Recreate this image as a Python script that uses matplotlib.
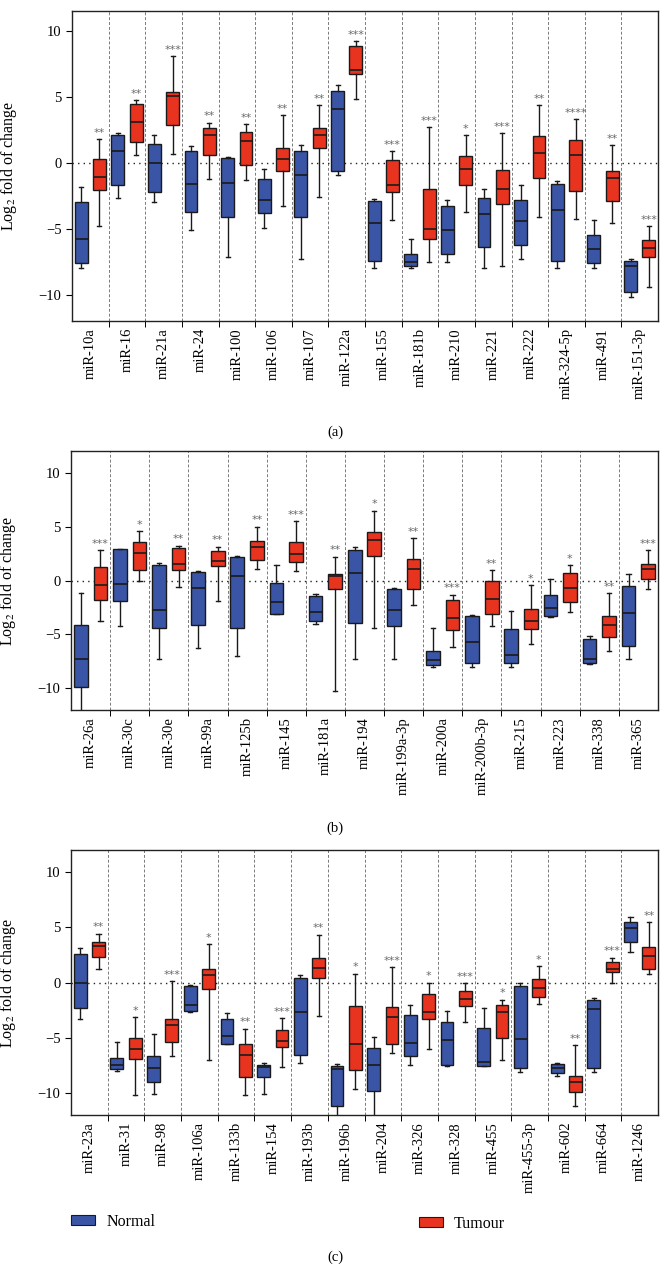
import matplotlib
matplotlib.use("Agg")
import matplotlib.pyplot as plt
from matplotlib.patches import Patch
import numpy as np

plt.rcParams['font.family'] = ['Liberation Serif', 'DejaVu Serif']
plt.rcParams['mathtext.fontset'] = 'stix'
plt.rcParams['axes.unicode_minus'] = True

# ---------------- data (lo, q1, median, q3, hi) ----------------
names_a = ["miR-10a", "miR-16", "miR-21a", "miR-24", "miR-100", "miR-106", "miR-107", "miR-122a",
           "miR-155", "miR-181b", "miR-210", "miR-221", "miR-222", "miR-324-5p", "miR-491", "miR-151-3p"]
normal_a = [(-8.0, -7.6, -5.8, -2.95, -1.87), (-2.67, -1.67, 0.86, 2.12, 2.25), (-2.98, -2.25, -0.05, 1.39, 2.1),
            (-5.08, -3.71, -1.59, 0.9, 1.24), (-7.15, -4.12, -1.52, 0.33, 0.45), (-4.97, -3.81, -2.86, -1.21, -0.45),
            (-7.27, -4.09, -0.91, 0.91, 1.34), (-0.91, -0.63, 4.09, 5.45, 5.9), (-7.98, -7.47, -4.55, -2.93, -2.78),
            (-7.98, -7.8, -7.52, -6.92, -5.81), (-7.5, -6.89, -5.08, -3.31, -2.85), (-7.98, -6.36, -3.89, -2.68, -1.99),
            (-7.3, -6.24, -4.39, -2.85, -1.69), (-7.98, -7.47, -3.59, -1.59, -1.41), (-7.98, -7.6, -6.57, -5.48, -4.34),
            (-10.17, -9.8, -7.83, -7.45, -7.3)]
tumour_a = [(-4.8, -2.1, -1.08, 0.28, 1.77), (0.55, 1.57, 3.05, 4.45, 4.75), (0.68, 2.85, 5.08, 5.38, 8.08),
            (-1.21, 0.58, 2.1, 2.65, 3.03), (-1.31, -0.15, 1.64, 2.32, 2.9), (-3.31, -0.63, 0.3, 1.11, 3.61),
            (-2.63, 1.14, 2.12, 2.63, 4.37), (4.8, 6.72, 7.05, 8.84, 9.22), (-4.32, -2.25, -1.72, 0.2, 0.86),
            (-7.55, -5.78, -5.03, -1.99, 2.7), (-3.71, -1.69, -0.48, 0.53, 2.07), (-7.8, -3.13, -1.97, -0.53, 2.22),
            (-4.09, -1.14, 0.76, 2.02, 4.34), (-4.27, -2.17, 0.55, 1.69, 3.28), (-4.55, -2.93, -1.16, -0.6, 1.34),
            (-9.39, -7.15, -6.46, -5.83, -4.82)]
stars_a = ["**", "**", "***", "**", "**", "**", "**", "***", "***", "***", "*", "***", "**", "****", "**", "***"]

names_b = ["miR-26a", "miR-30c", "miR-30e", "miR-99a", "miR-125b", "miR-145", "miR-181a", "miR-194",
           "miR-199a-3p", "miR-200a", "miR-200b-3p", "miR-215", "miR-223", "miR-338", "miR-365"]
normal_b = [(-12.5, -9.85, -7.31, -4.11, -1.18), (-4.23, -1.89, -0.34, 2.9, 2.96), (-7.31, -4.44, -2.69, 1.48, 1.63),
            (-6.24, -4.14, -0.74, 0.8, 0.86), (-7.01, -4.44, 0.43, 2.16, 2.31), (-3.15, -3.06, -1.98, -0.19, 1.45),
            (-4.05, -3.77, -2.9, -1.39, -1.24), (-7.31, -3.92, 0.65, 2.87, 3.08), (-7.31, -4.23, -2.69, -0.83, -0.65),
            (-8.02, -7.81, -7.38, -6.55, -4.39), (-8.02, -7.69, -5.71, -3.28, -3.18), (-8.02, -7.69, -6.92, -4.51, -2.81),
            (-3.34, -3.28, -2.54, -1.36, 0.15), (-7.78, -7.6, -7.31, -5.4, -5.16), (-7.31, -6.11, -3.03, -0.53, 0.56)]
tumour_b = [(-3.77, -1.79, -0.44, 1.26, 2.78), (-0.09, 0.93, 2.59, 3.61, 4.59), (-0.56, 0.93, 1.57, 3.02, 3.24),
            (-1.92, 1.35, 1.79, 2.69, 3.15), (1.02, 1.94, 3.08, 3.7, 5.0), (0.86, 1.69, 2.46, 3.61, 5.52),
            (-10.22, -0.81, 0.43, 0.61, 2.22), (-4.39, 2.31, 3.73, 4.53, 6.48), (-2.28, -0.77, 1.08, 1.97, 3.94),
            (-6.15, -4.6, -3.52, -1.82, -1.3), (-4.17, -3.15, -1.7, -0.03, 0.93), (-5.9, -4.54, -3.74, -2.66, -0.44),
            (-2.96, -1.98, -0.65, 0.65, 1.42), (-6.52, -5.22, -4.14, -3.28, -1.2), (-0.83, 0.12, 1.05, 1.57, 2.78)]
stars_b = ["***", "*", "**", "**", "**", "***", "**", "*", "**", "***", "**", "*", "*", "**", "***"]

names_c = ["miR-23a", "miR-31", "miR-98", "miR-106a", "miR-133b", "miR-154", "miR-193b", "miR-196b",
           "miR-204", "miR-326", "miR-328", "miR-455", "miR-455-3p", "miR-602", "miR-664", "miR-1246"]
normal_c = [(-3.32, -2.35, 0.0, 2.62, 3.16), (-8.01, -7.8, -7.5, -6.84, -5.39), (-10.09, -8.98, -7.77, -6.69, -4.67),
            (-2.71, -2.62, -2.08, -0.3, -0.21), (-5.6, -5.55, -4.82, -3.29, -2.8), (-10.09, -8.6, -7.68, -7.47, -7.32),
            (-7.32, -6.6, -2.65, 0.39, 0.66), (-12.5, -11.15, -7.86, -7.56, -7.35), (-12.5, -9.85, -7.5, -5.96, -4.97),
            (-7.5, -6.65, -5.45, -2.98, -2.02), (-7.56, -7.47, -5.21, -3.56, -2.56), (-7.6, -7.6, -7.2, -4.1, -2.35),
            (-8.1, -7.7, -5.12, -0.33, -0.03), (-8.5, -8.2, -7.76, -7.4, -7.3), (-8.1, -7.76, -2.38, -1.63, -1.36),
            (2.77, 3.7, 4.97, 5.51, 5.93)]
tumour_c = [(1.2, 2.35, 3.31, 3.64, 4.43), (-10.15, -6.9, -6.05, -5.0, -3.16), (-6.69, -5.42, -3.83, -3.29, 0.12),
            (-6.99, -0.63, 0.69, 1.26, 3.46), (-10.15, -8.58, -6.54, -5.6, -4.19), (-7.68, -5.82, -5.3, -4.31, -3.25),
            (-3.07, 0.39, 1.32, 2.2, 4.34), (-9.6, -7.9, -5.55, -2.17, 0.81), (-6.4, -5.57, -3.16, -2.23, 1.41),
            (-6.02, -3.32, -2.71, -1.08, -0.03), (-3.56, -2.17, -1.51, -0.81, -0.09), (-7.0, -5.06, -2.71, -2.05, -1.54),
            (-1.93, -1.33, -0.54, 0.33, 1.47), (-11.15, -9.9, -8.97, -8.5, -5.69), (0.0, 0.96, 1.2, 1.86, 2.26),
            (0.81, 1.2, 2.44, 3.22, 5.45)]
stars_c = ["**", "*", "***", "*", "**", "***", "**", "*", "***", "*", "***", "*", "*", "**", "***", "**"]

yticks = [-10, -5, 0, 5, 10]
series_labels = ["Normal", "Tumour"]

# ---------------- style ----------------
BLUE = "#3b55a6"
RED = "#e8341f"
EDGE = "#1a1a1a"
W, H = 669, 1274
fig = plt.figure(figsize=(W / 100, H / 100), dpi=100)


def to_stats(rows):
    return [dict(whislo=r[0], q1=r[1], med=r[2], q3=r[3], whishi=r[4], fliers=[]) for r in rows]


def panel(rect_px, names, normal, tumour, stars, ylim, tag, tag_y):
    l, t, r, b = rect_px
    ax = fig.add_axes([l / W, 1 - b / H, (r - l) / W, (b - t) / H])
    n = len(names)
    x = np.arange(n)
    common = dict(widths=0.35, patch_artist=True, showfliers=False, capwidths=0.11,
                  medianprops=dict(color=EDGE, lw=1.2),
                  whiskerprops=dict(color=EDGE, lw=1.0),
                  capprops=dict(color=EDGE, lw=1.0))
    ax.bxp(to_stats(normal), positions=x - 0.25, boxprops=dict(facecolor=BLUE, edgecolor=EDGE, lw=1.0), **common)
    ax.bxp(to_stats(tumour), positions=x + 0.25, boxprops=dict(facecolor=RED, edgecolor=EDGE, lw=1.0), **common)
    for i, s in enumerate(stars):
        ax.annotate(s, (x[i] + 0.25, tumour[i][4]), xytext=(0, 1.0), textcoords="offset points",
                    ha="center", va="bottom", fontsize=8, color="#6a6a6a", family="DejaVu Sans")
    for s in x[:-1] + 0.5:
        ax.axvline(s, color="#7a7a7a", lw=0.7, ls=(0, (3, 2)), zorder=0)
    ax.axhline(0, color="#222222", lw=1.0, ls=(0, (1, 3)), zorder=0)
    ax.set_xlim(-0.5, n - 0.5)
    ax.set_ylim(*ylim)
    ax.set_yticks(yticks)
    ax.set_xticks(x)
    ax.set_xticklabels(names, rotation=90, fontsize=10.5)
    ax.set_xticks(x[:-1] + 0.5, minor=True)
    ax.tick_params(axis="x", which="major", length=0, pad=5)
    ax.tick_params(axis="x", which="minor", length=4, width=0.7, direction="out")
    ax.tick_params(axis="y", labelsize=10.5, length=4, width=0.8, direction="out")
    for sp in ax.spines.values():
        sp.set_linewidth(1.0)
        sp.set_color("#222222")
    ax.set_ylabel("Log$_2$ fold of change", fontsize=11.5)
    ax.yaxis.set_label_coords(-0.09, 0.5)
    fig.text(335 / W, 1 - tag_y / H, tag, ha="center", va="center", fontsize=10.5)
    return ax


panel((72, 11, 658, 321), names_a, normal_a, tumour_a, stars_a, (-12, 11.5), "(a)", 432)
panel((71, 451, 658, 710), names_b, normal_b, tumour_b, stars_b, (-12, 12), "(b)", 828)
panel((71, 850, 658, 1115), names_c, normal_c, tumour_c, stars_c, (-12, 12), "(c)", 1257)

leg_kw = dict(frameon=False, fontsize=11.5, handlelength=1.5, handleheight=0.6, handletextpad=0.7,
              borderaxespad=0, borderpad=0)
fig.legend(handles=[Patch(facecolor=BLUE, edgecolor=EDGE, lw=0.8, label=series_labels[0])],
           loc="center left", bbox_to_anchor=(71 / W, 1 - 1222 / H), **leg_kw)
fig.legend(handles=[Patch(facecolor=RED, edgecolor=EDGE, lw=0.8, label=series_labels[1])],
           loc="center left", bbox_to_anchor=(419 / W, 1 - 1224 / H), **leg_kw)

fig.savefig("out.png", dpi=100)
